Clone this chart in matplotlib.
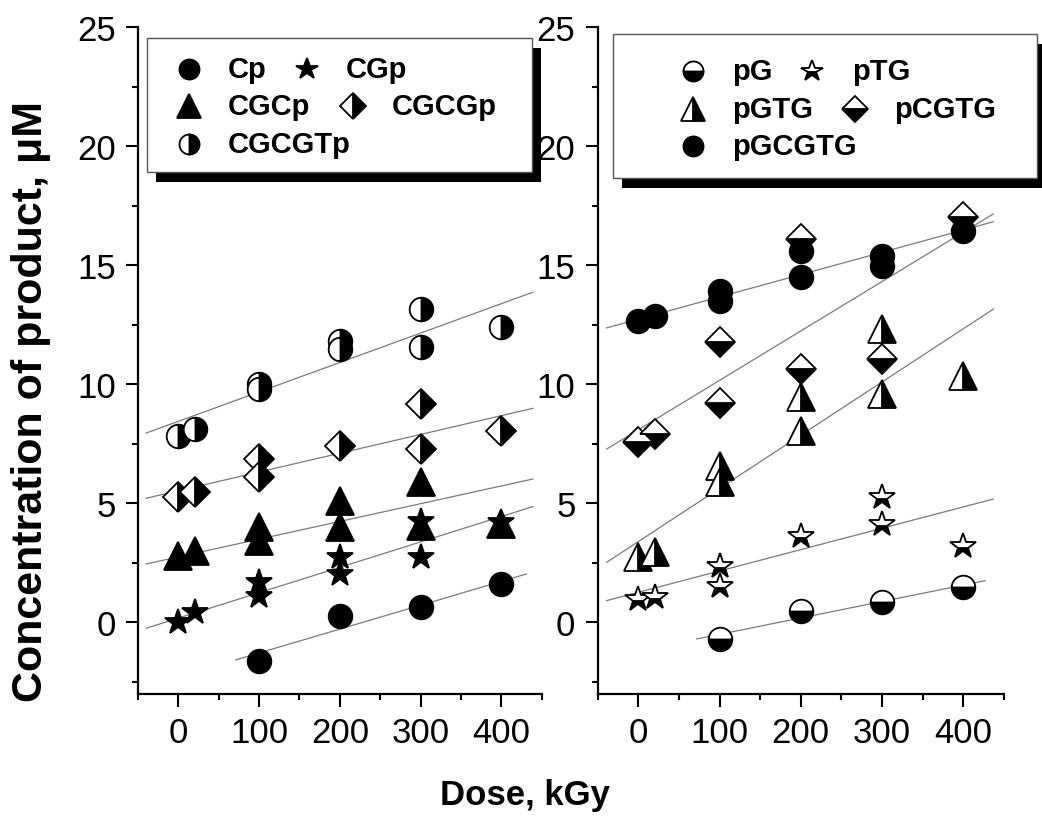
import matplotlib.pyplot as plt
from matplotlib.lines import Line2D
from matplotlib.patches import Rectangle
from matplotlib.ticker import MultipleLocator

plt.rcParams['font.family'] = ['Liberation Sans', 'DejaVu Sans']

# ---- left panel: 3'-phosphate products ----
cp_x = [100, 200, 300, 400]
cp_y = [-1.61, 0.28, 0.63, 1.61]
cgp_x = [0, 20, 100, 100, 200, 200, 300, 300, 400]
cgp_y = [0.0, 0.42, 1.68, 1.12, 2.73, 2.03, 4.27, 2.73, 4.2]
cgcp_x = [0, 20, 100, 100, 200, 200, 300, 300, 400]
cgcp_y = [2.80, 3.01, 3.99, 3.43, 5.11, 3.99, 5.88, 4.06, 4.13]
cgcgp_x = [0, 20, 100, 100, 200, 300, 300, 400]
cgcgp_y = [5.25, 5.46, 6.86, 6.09, 7.42, 9.17, 7.28, 8.05]
cgcgtp_x = [0, 20, 100, 100, 200, 200, 300, 300, 400]
cgcgtp_y = [7.84, 8.12, 10.01, 9.80, 11.83, 11.48, 13.16, 11.55, 12.39]

# straight lines as drawn in the figure (end points)
cp_fit_x, cp_fit_y = [71, 431], [-1.58, 2.03]
cgp_fit_x, cgp_fit_y = [-40, 439], [-0.25, 4.86]
cgcp_fit_x, cgcp_fit_y = [-40, 439], [2.45, 6.02]
cgcgp_fit_x, cgcgp_fit_y = [-40, 439], [5.21, 8.99]
cgcgtp_fit_x, cgcgtp_fit_y = [-40, 439], [7.95, 13.87]

# ---- right panel: 5'-phosphate products ----
pg_x = [100, 200, 300, 400]
pg_y = [-0.70, 0.49, 0.84, 1.47]
ptg_x = [0, 20, 100, 100, 200, 300, 300, 400]
ptg_y = [0.98, 1.05, 2.38, 1.54, 3.64, 5.25, 4.13, 3.22]
pgtg_x = [0, 20, 100, 100, 200, 200, 300, 300, 400]
pgtg_y = [2.73, 2.94, 6.58, 5.88, 9.45, 8.05, 12.32, 9.59, 10.36]
pcgtg_x = [0, 20, 100, 100, 200, 200, 300, 400]
pcgtg_y = [7.56, 7.91, 11.76, 9.21, 16.10, 10.64, 11.06, 17.02]
pgcgtg_x = [0, 20, 100, 100, 200, 200, 300, 300, 400]
pgcgtg_y = [12.67, 12.88, 13.93, 13.51, 15.61, 14.50, 15.40, 14.98, 16.45]

pg_fit_x, pg_fit_y = [72, 427], [-0.70, 1.75]
ptg_fit_x, ptg_fit_y = [-39, 437], [0.91, 5.18]
pgtg_fit_x, pgtg_fit_y = [-39, 437], [2.52, 13.16]
pcgtg_fit_x, pcgtg_fit_y = [-39, 437], [7.28, 17.16]
pgcgtg_fit_x, pgcgtg_fit_y = [-39, 437], [12.37, 16.83]

left_labels = ['Cp', 'CGp', 'CGCp', 'CGCGp', 'CGCGTp']
right_labels = ['pG', 'pTG', 'pGTG', 'pCGTG', 'pGCGTG']

# marker styles: (marker, fillstyle, size)
left_styles = [('o', 'full', 17), ('*', 'full', 19), ('^', 'full', 20),
               ('D', 'right', 15), ('o', 'right', 17)]
right_styles = [('o', 'bottom', 17), ('*', 'bottom', 19), ('^', 'right', 20),
                ('D', 'bottom', 15), ('o', 'full', 17)]

left_series = [(cp_x, cp_y, cp_fit_x, cp_fit_y),
               (cgp_x, cgp_y, cgp_fit_x, cgp_fit_y),
               (cgcp_x, cgcp_y, cgcp_fit_x, cgcp_fit_y),
               (cgcgp_x, cgcgp_y, cgcgp_fit_x, cgcgp_fit_y),
               (cgcgtp_x, cgcgtp_y, cgcgtp_fit_x, cgcgtp_fit_y)]
right_series = [(pg_x, pg_y, pg_fit_x, pg_fit_y),
                (ptg_x, ptg_y, ptg_fit_x, ptg_fit_y),
                (pgtg_x, pgtg_y, pgtg_fit_x, pgtg_fit_y),
                (pcgtg_x, pcgtg_y, pcgtg_fit_x, pcgtg_fit_y),
                (pgcgtg_x, pgcgtg_y, pgcgtg_fit_x, pgcgtg_fit_y)]

W, H = 1042, 820
fig = plt.figure(figsize=(W / 100, H / 100), dpi=100)
ax1 = fig.add_axes([138 / W, 1 - 694.7 / H, 403.7 / W, 666.4 / H])
ax2 = fig.add_axes([597.7 / W, 1 - 694.7 / H, 406.2 / W, 666.4 / H])


def mk(marker, fill, ms):
    return dict(marker=marker, fillstyle=fill, markersize=ms, markerfacecolor='black',
                markerfacecoloralt='white', markeredgecolor='black', markeredgewidth=1.3)


for ax, series, styles in ((ax1, left_series, left_styles), (ax2, right_series, right_styles)):
    for (x, y, fx, fy), st in zip(series, styles):
        ax.plot(fx, fy, color='#7a7a7a', lw=0.9, zorder=1)
        ax.plot(x, y, ls='none', zorder=3, clip_on=False, **mk(*st))
    ax.set_xlim(-50, 450)
    ax.set_ylim(-3, 25)
    ax.spines[['top', 'right']].set_visible(False)
    ax.spines[['left', 'bottom']].set_linewidth(1.6)
    ax.xaxis.set_major_locator(MultipleLocator(100))
    ax.xaxis.set_minor_locator(MultipleLocator(50))
    ax.yaxis.set_major_locator(MultipleLocator(5))
    ax.yaxis.set_minor_locator(MultipleLocator(2.5))
    ax.tick_params(which='major', length=9, width=1.5, labelsize=25, pad=7)
    ax.tick_params(which='minor', length=4.5, width=1.5)


def legend_box(x0, y0, x1, y1):
    fig.add_artist(Rectangle(((x0 + 9) / W, 1 - (y1 + 10) / H), (x1 - x0) / W, (y1 - y0) / H,
                             transform=fig.transFigure, facecolor='black', edgecolor='none', zorder=5))
    fig.add_artist(Rectangle((x0 / W, 1 - y1 / H), (x1 - x0) / W, (y1 - y0) / H,
                             transform=fig.transFigure, facecolor='white', edgecolor='#555555',
                             lw=1.0, zorder=6))


def legend_entry(px, py, tx, label, st):
    m, f, ms = st
    fig.add_artist(Line2D([px / W], [1 - py / H], transform=fig.transFigure, ls='none',
                          zorder=7, **mk(m, f, ms * 0.85)))
    fig.text(tx / W, 1 - py / H, label, fontsize=21, fontweight='bold', va='center',
             ha='left', zorder=7)


legend_box(146.7, 39.3, 531.7, 173.3)
legend_entry(189, 69.5, 228, left_labels[0], left_styles[0])
legend_entry(306.7, 69.5, 345.7, left_labels[1], left_styles[1])
legend_entry(189, 107, 228, left_labels[2], left_styles[2])
legend_entry(352.7, 107, 391.7, left_labels[3], left_styles[3])
legend_entry(189, 145, 228, left_labels[4], left_styles[4])

legend_box(612.7, 35, 1037, 179.3)
legend_entry(693.3, 71.7, 732.3, right_labels[0], right_styles[0])
legend_entry(812.3, 71.7, 852.3, right_labels[1], right_styles[1])
legend_entry(693.3, 110, 732.3, right_labels[2], right_styles[2])
legend_entry(855, 110, 894, right_labels[3], right_styles[3])
legend_entry(693.3, 146.7, 732.3, right_labels[4], right_styles[4])

fig.text(31 / W, 1 - 402 / H, 'Concentration of product, μM', rotation=90, fontsize=31,
         fontweight='bold', ha='center', va='center')
fig.text(525 / W, 1 - 796 / H, 'Dose, kGy', fontsize=25, fontweight='bold',
         ha='center', va='center')

fig.savefig('out.png', dpi=100)
